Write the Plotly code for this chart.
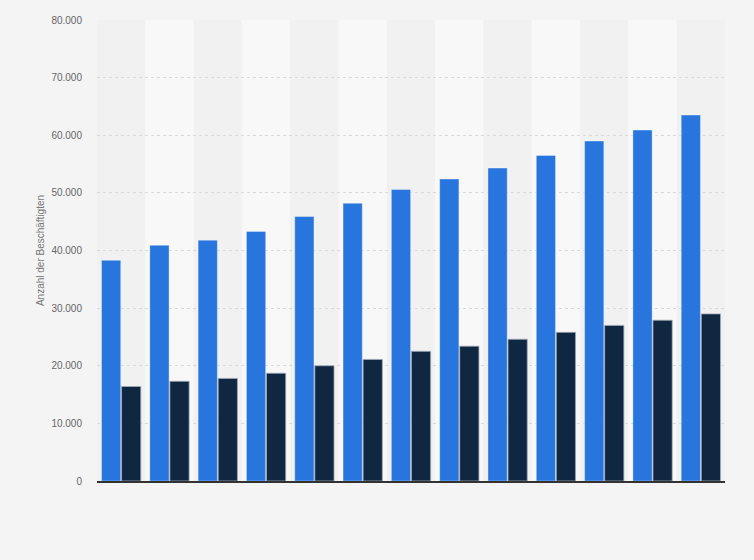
import plotly.graph_objects as go

categories = ["1", "2", "3", "4", "5", "6", "7", "8", "9", "10", "11", "12", "13"]
series_a = [38300, 40900, 41800, 43300, 45900, 48200, 50600, 52400, 54300, 56500, 59000, 60900, 63500]
series_b = [16400, 17300, 17800, 18700, 20000, 21100, 22500, 23400, 24600, 25800, 27000, 27900, 29000]
y_ticks = [0, 10000, 20000, 30000, 40000, 50000, 60000, 70000, 80000]

fig = go.Figure()
fig.add_trace(go.Bar(x=categories, y=series_a, name="Serie A",
                     marker=dict(color="#2876dd", line=dict(color="rgba(255,255,255,0.35)", width=1))))
fig.add_trace(go.Bar(x=categories, y=series_b, name="Serie B",
                     marker=dict(color="#0f2741", line=dict(color="rgba(160,170,185,0.8)", width=1))))

shapes = []
for i, c in enumerate(categories):
    shapes.append(dict(type="rect", xref="x", yref="paper", x0=i - 0.5, x1=i + 0.5, y0=0, y1=1,
                       fillcolor="#f1f1f1" if i % 2 == 0 else "#f8f8f8", line=dict(width=0), layer="below"))

fig.update_layout(
    width=754, height=560,
    margin=dict(l=97, r=29, t=20, b=79),
    paper_bgcolor="#f4f4f4", plot_bgcolor="#f4f4f4",
    barmode="group", bargap=0.17, bargroupgap=0.04,
    showlegend=False,
    separators=",.",
    shapes=shapes,
    font=dict(family="Liberation Sans, Arial, sans-serif", color="#666666"),
    xaxis=dict(showticklabels=False, showgrid=False, zeroline=False,
               showline=True, linecolor="#333333", linewidth=1.5, ticks="",
               range=[-0.5, len(categories) - 0.5]),
    yaxis=dict(range=[0, 80000], tickvals=y_ticks, tickformat=",d",
               showgrid=True, gridcolor="#dadada", griddash="dot", gridwidth=1,
               zeroline=False, tickfont=dict(size=10, color="#666666"),
               ticks="", ticklabelstandoff=14,
               title=dict(text="Anzahl der Beschäftigten", font=dict(size=10, color="#777777"), standoff=4)),
)

fig.write_html("out.html", config={"displayModeBar": False},
               post_script="document.body.style.margin='0';document.body.style.background='#f4f4f4';")
